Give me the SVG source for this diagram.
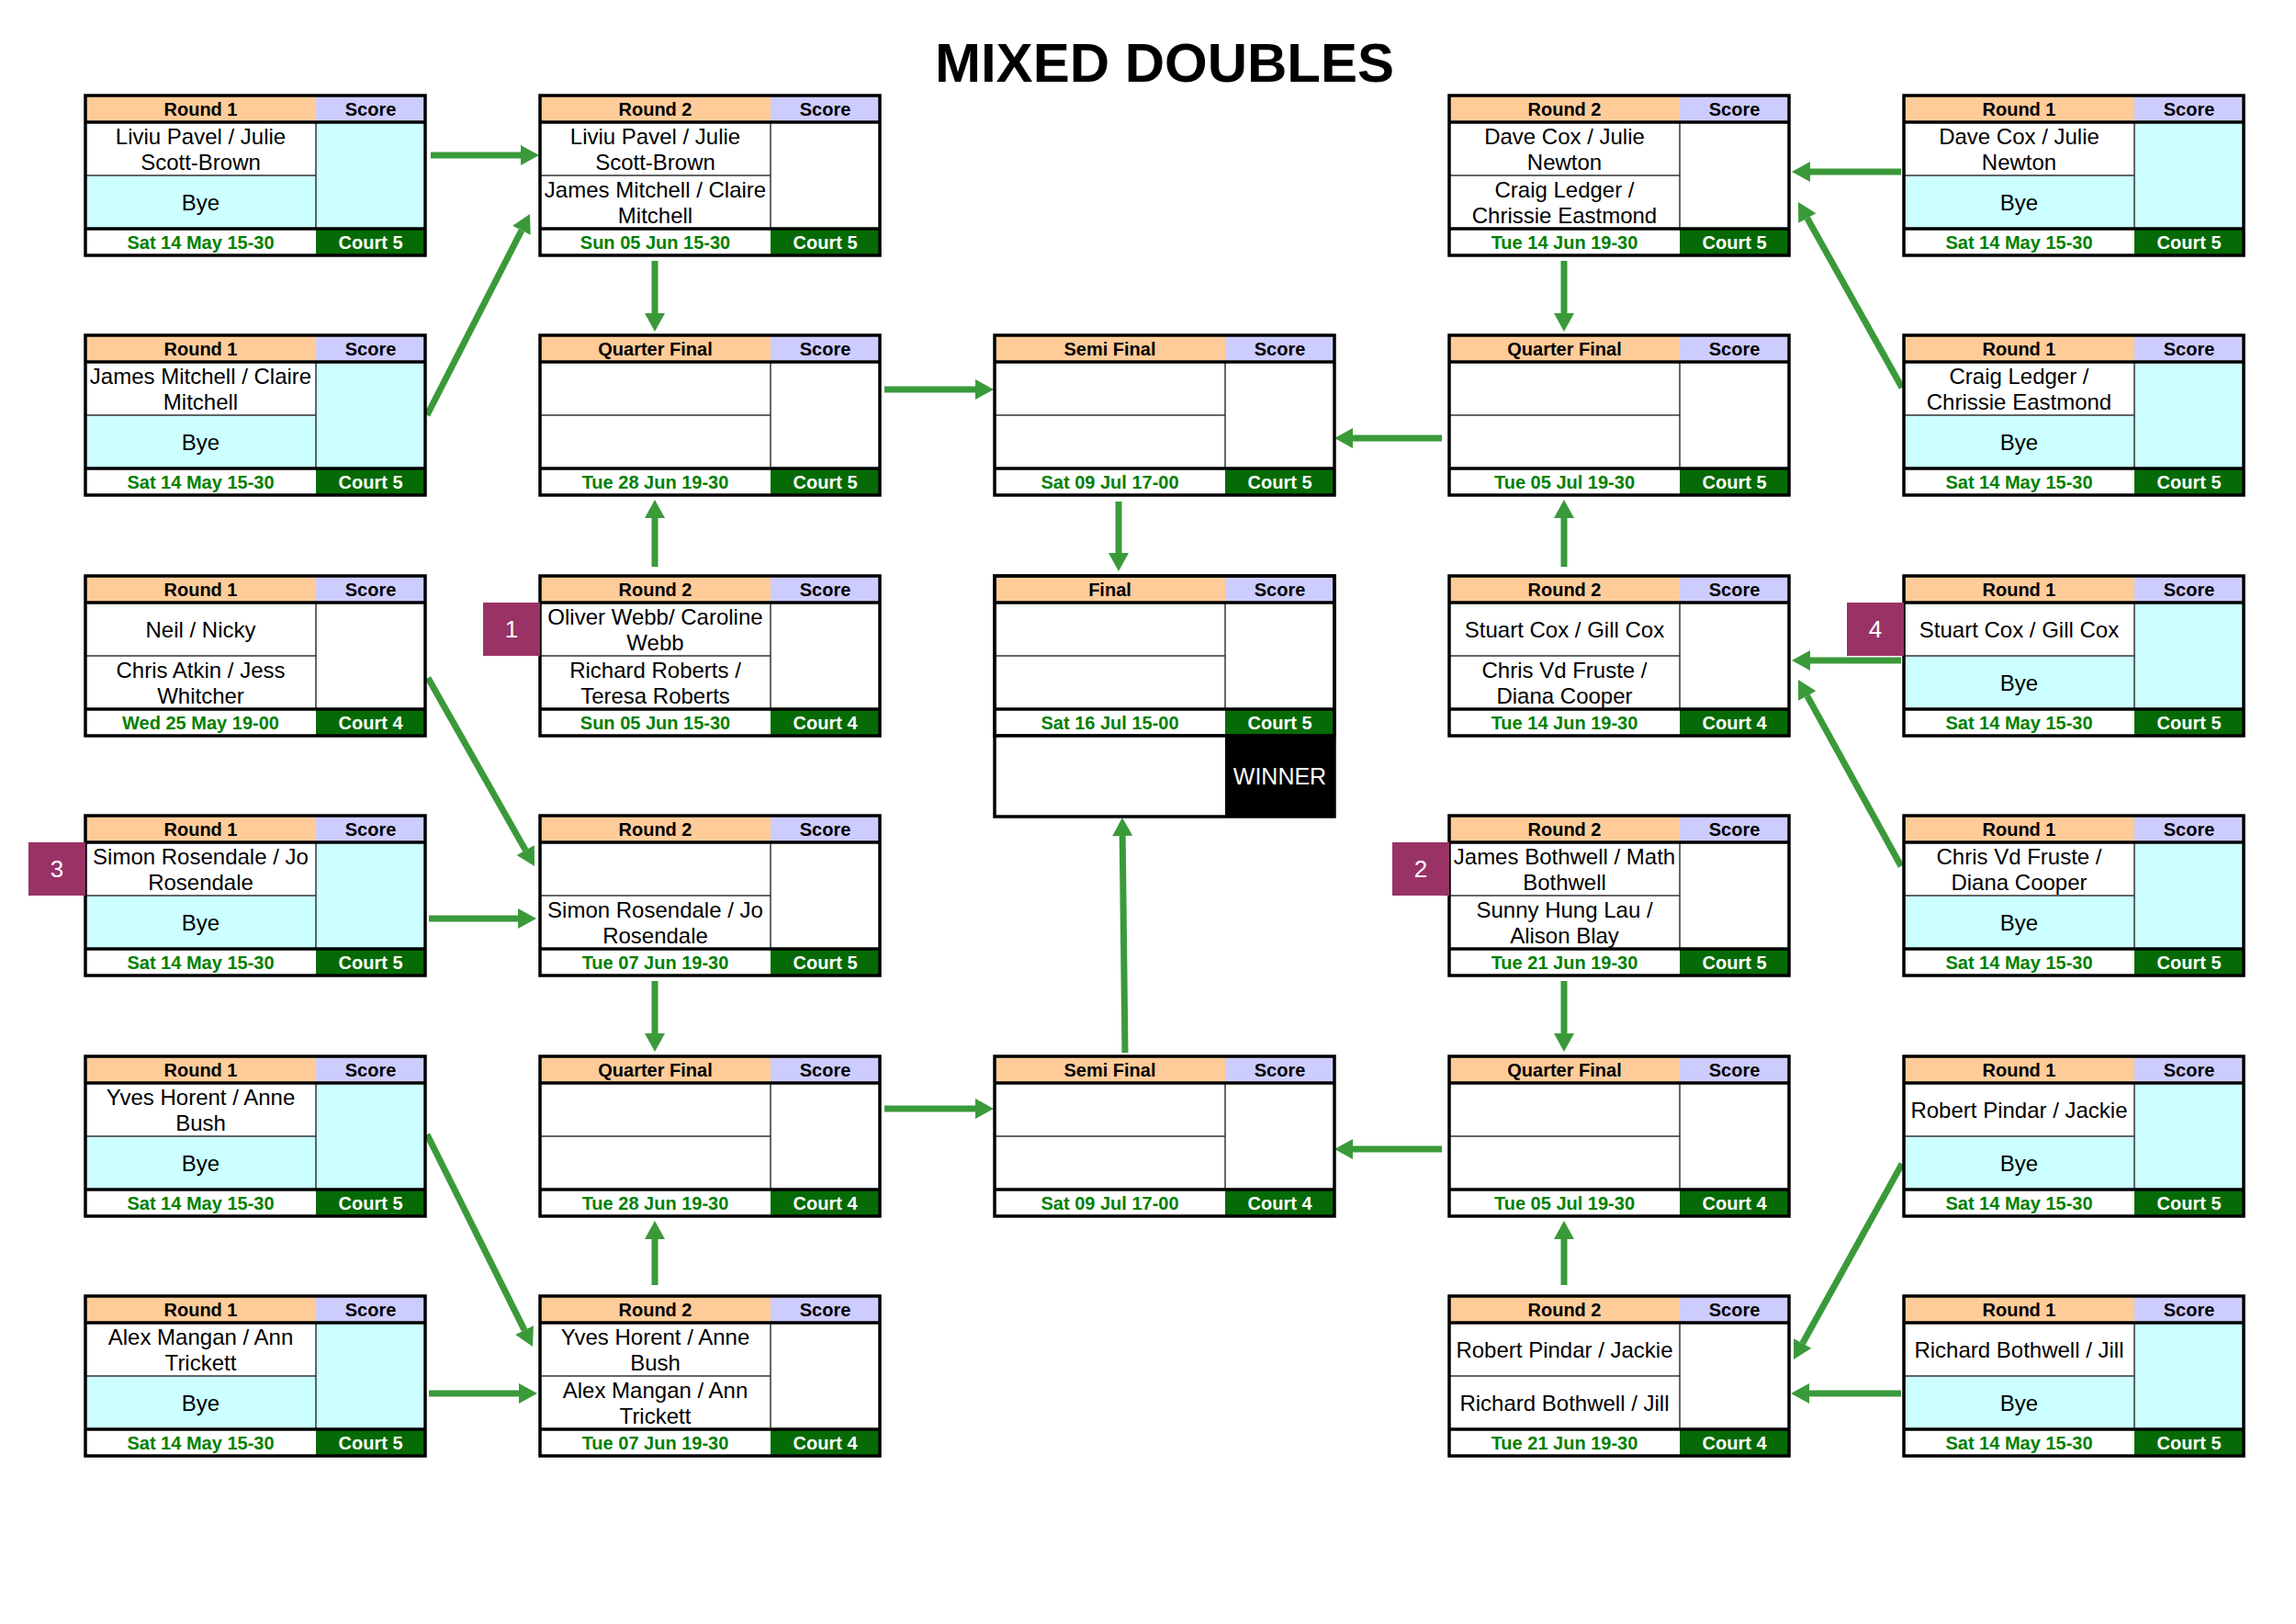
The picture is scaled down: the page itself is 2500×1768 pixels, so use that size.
<svg xmlns="http://www.w3.org/2000/svg" xmlns:xlink="http://www.w3.org/1999/xlink" width="2500" height="1768" viewBox="0 0 2500 1768">
<style>
.hd{fill:#FFCC99}.sh{fill:#CCCCFF}.w{fill:#FFFFFF}.cy{fill:#CCFFFF}.ct{fill:#066B06}
.thin{stroke:#333;stroke-width:1.5}.thick{stroke:#000;stroke-width:3.5}
.frame{fill:none;stroke:#000;stroke-width:3.5}
text{font-family:"Liberation Sans",Arial,sans-serif;text-anchor:middle}
.h{font-size:20px;font-weight:bold;fill:#000}
.n{font-size:24px;fill:#000}
.d{font-size:20px;font-weight:bold;fill:#008000}
.c{font-size:20px;font-weight:bold;fill:#FFFFFF}
.sd{font-size:26px;fill:#FFFFFF}
.seed{fill:#993366}
.title{font-size:60px;font-weight:bold;fill:#000}
.arr{stroke:#3A9A3A;stroke-width:7;fill:none;marker-end:url(#ah)}
</style>
<defs>
<marker id="ah" markerUnits="userSpaceOnUse" markerWidth="20" markerHeight="22" refX="0" refY="11" orient="auto" overflow="visible">
<path d="M0,0 L20,11 L0,22 z" fill="#3A9A3A"/>
</marker>
<g id="boxW">
<rect class="hd" x="0" y="0" width="251" height="29"/>
<rect class="sh" x="251" y="0" width="119" height="29"/>
<rect class="w" x="0" y="29" width="370" height="116"/>
<rect class="w" x="0" y="145" width="251" height="29"/>
<rect class="ct" x="251" y="145" width="119" height="29"/>
<line class="thin" x1="0" y1="87" x2="251" y2="87"/>
<line class="thin" x1="251" y1="29" x2="251" y2="145"/>
<line class="thick" x1="0" y1="29" x2="370" y2="29"/>
<line class="thick" x1="0" y1="145" x2="370" y2="145"/>
<rect class="frame" x="0" y="0" width="370" height="174"/>
</g>
<g id="boxC">
<rect class="hd" x="0" y="0" width="251" height="29"/>
<rect class="sh" x="251" y="0" width="119" height="29"/>
<rect class="w" x="0" y="29" width="251" height="58"/>
<rect class="cy" x="0" y="87" width="251" height="58"/>
<rect class="cy" x="251" y="29" width="119" height="116"/>
<rect class="w" x="0" y="145" width="251" height="29"/>
<rect class="ct" x="251" y="145" width="119" height="29"/>
<line class="thin" x1="0" y1="87" x2="251" y2="87"/>
<line class="thin" x1="251" y1="29" x2="251" y2="145"/>
<line class="thick" x1="0" y1="29" x2="370" y2="29"/>
<line class="thick" x1="0" y1="145" x2="370" y2="145"/>
<rect class="frame" x="0" y="0" width="370" height="174"/>
</g>
</defs>
<rect x="0" y="0" width="2500" height="1768" fill="#FFFFFF"/>
<text class="title" x="1268" y="89">MIXED DOUBLES</text>

<g id="connectors">
<line class="arr" x1="469" y1="169" x2="567" y2="169"/>
<line class="arr" x1="465" y1="452" x2="567.9" y2="250.8"/>
<line class="arr" x1="713" y1="284" x2="713" y2="341"/>
<line class="arr" x1="963" y1="424" x2="1062" y2="424"/>
<line class="arr" x1="713" y1="617" x2="713" y2="564"/>
<line class="arr" x1="1218" y1="546" x2="1218" y2="602"/>
<line class="arr" x1="1570" y1="477" x2="1473" y2="477"/>
<line class="arr" x1="466" y1="738" x2="572.2" y2="925.6"/>
<line class="arr" x1="467" y1="1000" x2="564" y2="1000"/>
<line class="arr" x1="713" y1="1068" x2="713" y2="1125"/>
<line class="arr" x1="963" y1="1207" x2="1062" y2="1207"/>
<line class="arr" x1="713" y1="1399" x2="713" y2="1349"/>
<line class="arr" x1="1225" y1="1146" x2="1222.2" y2="910"/>
<line class="arr" x1="1570" y1="1251" x2="1473" y2="1251"/>
<line class="arr" x1="465" y1="1235" x2="571.1" y2="1448.1"/>
<line class="arr" x1="467" y1="1517" x2="565" y2="1517"/>
<line class="arr" x1="2070" y1="187" x2="1971" y2="187"/>
<line class="arr" x1="2071" y1="422" x2="1967.8" y2="237.5"/>
<line class="arr" x1="1703" y1="284" x2="1703" y2="341"/>
<line class="arr" x1="1703" y1="617" x2="1703" y2="564"/>
<line class="arr" x1="2070" y1="719" x2="1971" y2="719"/>
<line class="arr" x1="2070" y1="943" x2="1967.7" y2="757.5"/>
<line class="arr" x1="1703" y1="1068" x2="1703" y2="1125"/>
<line class="arr" x1="1703" y1="1399" x2="1703" y2="1349"/>
<line class="arr" x1="2071" y1="1267" x2="1962.7" y2="1462.5"/>
<line class="arr" x1="2070" y1="1517" x2="1970" y2="1517"/>
</g>

<!-- Left Round 1 -->
<g id="A1" transform="translate(93,104)">
<use xlink:href="#boxC" href="#boxC"/>
<text class="h" x="125.5" y="22">Round 1</text><text class="h" x="310.5" y="22">Score</text>
<text class="n" x="125.5" y="52.5">Liviu Pavel / Julie</text><text class="n" x="125.5" y="80.5">Scott-Brown</text>
<text class="n" x="125.5" y="124.5">Bye</text>
<text class="d" x="125.5" y="166.5">Sat 14 May 15-30</text><text class="c" x="310.5" y="166.5">Court 5</text>
</g>
<g id="A2" transform="translate(93,365)">
<use xlink:href="#boxC" href="#boxC"/>
<text class="h" x="125.5" y="22">Round 1</text><text class="h" x="310.5" y="22">Score</text>
<text class="n" x="125.5" y="52.5">James Mitchell / Claire</text><text class="n" x="125.5" y="80.5">Mitchell</text>
<text class="n" x="125.5" y="124.5">Bye</text>
<text class="d" x="125.5" y="166.5">Sat 14 May 15-30</text><text class="c" x="310.5" y="166.5">Court 5</text>
</g>
<g id="A3" transform="translate(93,627)">
<use xlink:href="#boxW" href="#boxW"/>
<text class="h" x="125.5" y="22">Round 1</text><text class="h" x="310.5" y="22">Score</text>
<text class="n" x="125.5" y="66.5">Neil / Nicky</text>
<text class="n" x="125.5" y="110.5">Chris Atkin / Jess</text><text class="n" x="125.5" y="138.5">Whitcher</text>
<text class="d" x="125.5" y="166.5">Wed 25 May 19-00</text><text class="c" x="310.5" y="166.5">Court 4</text>
</g>
<g id="A4" transform="translate(93,888)">
<use xlink:href="#boxC" href="#boxC"/>
<rect class="seed" x="-62" y="29" width="62" height="58"/><text class="sd" x="-31" y="67">3</text>
<text class="h" x="125.5" y="22">Round 1</text><text class="h" x="310.5" y="22">Score</text>
<text class="n" x="125.5" y="52.5">Simon Rosendale / Jo</text><text class="n" x="125.5" y="80.5">Rosendale</text>
<text class="n" x="125.5" y="124.5">Bye</text>
<text class="d" x="125.5" y="166.5">Sat 14 May 15-30</text><text class="c" x="310.5" y="166.5">Court 5</text>
</g>
<g id="A5" transform="translate(93,1150)">
<use xlink:href="#boxC" href="#boxC"/>
<text class="h" x="125.5" y="22">Round 1</text><text class="h" x="310.5" y="22">Score</text>
<text class="n" x="125.5" y="52.5">Yves Horent / Anne</text><text class="n" x="125.5" y="80.5">Bush</text>
<text class="n" x="125.5" y="124.5">Bye</text>
<text class="d" x="125.5" y="166.5">Sat 14 May 15-30</text><text class="c" x="310.5" y="166.5">Court 5</text>
</g>
<g id="A6" transform="translate(93,1411)">
<use xlink:href="#boxC" href="#boxC"/>
<text class="h" x="125.5" y="22">Round 1</text><text class="h" x="310.5" y="22">Score</text>
<text class="n" x="125.5" y="52.5">Alex Mangan / Ann</text><text class="n" x="125.5" y="80.5">Trickett</text>
<text class="n" x="125.5" y="124.5">Bye</text>
<text class="d" x="125.5" y="166.5">Sat 14 May 15-30</text><text class="c" x="310.5" y="166.5">Court 5</text>
</g>

<!-- Left Round 2 / QF -->
<g id="B1" transform="translate(588,104)">
<use xlink:href="#boxW" href="#boxW"/>
<text class="h" x="125.5" y="22">Round 2</text><text class="h" x="310.5" y="22">Score</text>
<text class="n" x="125.5" y="52.5">Liviu Pavel / Julie</text><text class="n" x="125.5" y="80.5">Scott-Brown</text>
<text class="n" x="125.5" y="110.5">James Mitchell / Claire</text><text class="n" x="125.5" y="138.5">Mitchell</text>
<text class="d" x="125.5" y="166.5">Sun 05 Jun 15-30</text><text class="c" x="310.5" y="166.5">Court 5</text>
</g>
<g id="B2" transform="translate(588,365)">
<use xlink:href="#boxW" href="#boxW"/>
<text class="h" x="125.5" y="22">Quarter Final</text><text class="h" x="310.5" y="22">Score</text>
<text class="d" x="125.5" y="166.5">Tue 28 Jun 19-30</text><text class="c" x="310.5" y="166.5">Court 5</text>
</g>
<g id="B3" transform="translate(588,627)">
<use xlink:href="#boxW" href="#boxW"/>
<rect class="seed" x="-62" y="29" width="62" height="58"/><text class="sd" x="-31" y="67">1</text>
<text class="h" x="125.5" y="22">Round 2</text><text class="h" x="310.5" y="22">Score</text>
<text class="n" x="125.5" y="52.5">Oliver Webb/ Caroline</text><text class="n" x="125.5" y="80.5">Webb</text>
<text class="n" x="125.5" y="110.5">Richard Roberts /</text><text class="n" x="125.5" y="138.5">Teresa Roberts</text>
<text class="d" x="125.5" y="166.5">Sun 05 Jun 15-30</text><text class="c" x="310.5" y="166.5">Court 4</text>
</g>
<g id="B4" transform="translate(588,888)">
<use xlink:href="#boxW" href="#boxW"/>
<text class="h" x="125.5" y="22">Round 2</text><text class="h" x="310.5" y="22">Score</text>
<text class="n" x="125.5" y="110.5">Simon Rosendale / Jo</text><text class="n" x="125.5" y="138.5">Rosendale</text>
<text class="d" x="125.5" y="166.5">Tue 07 Jun 19-30</text><text class="c" x="310.5" y="166.5">Court 5</text>
</g>
<g id="B5" transform="translate(588,1150)">
<use xlink:href="#boxW" href="#boxW"/>
<text class="h" x="125.5" y="22">Quarter Final</text><text class="h" x="310.5" y="22">Score</text>
<text class="d" x="125.5" y="166.5">Tue 28 Jun 19-30</text><text class="c" x="310.5" y="166.5">Court 4</text>
</g>
<g id="B6" transform="translate(588,1411)">
<use xlink:href="#boxW" href="#boxW"/>
<text class="h" x="125.5" y="22">Round 2</text><text class="h" x="310.5" y="22">Score</text>
<text class="n" x="125.5" y="52.5">Yves Horent / Anne</text><text class="n" x="125.5" y="80.5">Bush</text>
<text class="n" x="125.5" y="110.5">Alex Mangan / Ann</text><text class="n" x="125.5" y="138.5">Trickett</text>
<text class="d" x="125.5" y="166.5">Tue 07 Jun 19-30</text><text class="c" x="310.5" y="166.5">Court 4</text>
</g>

<!-- Centre -->
<g id="C1" transform="translate(1083,365)">
<use xlink:href="#boxW" href="#boxW"/>
<text class="h" x="125.5" y="22">Semi Final</text><text class="h" x="310.5" y="22">Score</text>
<text class="d" x="125.5" y="166.5">Sat 09 Jul 17-00</text><text class="c" x="310.5" y="166.5">Court 5</text>
</g>
<g id="C2" transform="translate(1083,627)">
<use xlink:href="#boxW" href="#boxW"/>
<rect class="w" x="0" y="174" width="251" height="88"/>
<rect x="251" y="174" width="119" height="88" fill="#000"/>
<line class="thick" x1="0" y1="174" x2="370" y2="174"/>
<rect class="frame" x="0" y="0" width="370" height="262"/>
<text class="h" x="125.5" y="22">Final</text><text class="h" x="310.5" y="22">Score</text>
<text class="d" x="125.5" y="166.5">Sat 16 Jul 15-00</text><text class="c" x="310.5" y="166.5">Court 5</text>
<text x="310.5" y="227" style="font-size:25px;fill:#FFFFFF">WINNER</text>
</g>
<g id="C3" transform="translate(1083,1150)">
<use xlink:href="#boxW" href="#boxW"/>
<text class="h" x="125.5" y="22">Semi Final</text><text class="h" x="310.5" y="22">Score</text>
<text class="d" x="125.5" y="166.5">Sat 09 Jul 17-00</text><text class="c" x="310.5" y="166.5">Court 4</text>
</g>

<!-- Right Round 2 / QF -->
<g id="D1" transform="translate(1578,104)">
<use xlink:href="#boxW" href="#boxW"/>
<text class="h" x="125.5" y="22">Round 2</text><text class="h" x="310.5" y="22">Score</text>
<text class="n" x="125.5" y="52.5">Dave Cox / Julie</text><text class="n" x="125.5" y="80.5">Newton</text>
<text class="n" x="125.5" y="110.5">Craig Ledger /</text><text class="n" x="125.5" y="138.5">Chrissie Eastmond</text>
<text class="d" x="125.5" y="166.5">Tue 14 Jun 19-30</text><text class="c" x="310.5" y="166.5">Court 5</text>
</g>
<g id="D2" transform="translate(1578,365)">
<use xlink:href="#boxW" href="#boxW"/>
<text class="h" x="125.5" y="22">Quarter Final</text><text class="h" x="310.5" y="22">Score</text>
<text class="d" x="125.5" y="166.5">Tue 05 Jul 19-30</text><text class="c" x="310.5" y="166.5">Court 5</text>
</g>
<g id="D3" transform="translate(1578,627)">
<use xlink:href="#boxW" href="#boxW"/>
<text class="h" x="125.5" y="22">Round 2</text><text class="h" x="310.5" y="22">Score</text>
<text class="n" x="125.5" y="66.5">Stuart Cox / Gill Cox</text>
<text class="n" x="125.5" y="110.5">Chris Vd Fruste /</text><text class="n" x="125.5" y="138.5">Diana Cooper</text>
<text class="d" x="125.5" y="166.5">Tue 14 Jun 19-30</text><text class="c" x="310.5" y="166.5">Court 4</text>
</g>
<g id="D4" transform="translate(1578,888)">
<use xlink:href="#boxW" href="#boxW"/>
<rect class="seed" x="-62" y="29" width="62" height="58"/><text class="sd" x="-31" y="67">2</text>
<text class="h" x="125.5" y="22">Round 2</text><text class="h" x="310.5" y="22">Score</text>
<text class="n" x="125.5" y="52.5">James Bothwell / Math</text><text class="n" x="125.5" y="80.5">Bothwell</text>
<text class="n" x="125.5" y="110.5">Sunny Hung Lau /</text><text class="n" x="125.5" y="138.5">Alison Blay</text>
<text class="d" x="125.5" y="166.5">Tue 21 Jun 19-30</text><text class="c" x="310.5" y="166.5">Court 5</text>
</g>
<g id="D5" transform="translate(1578,1150)">
<use xlink:href="#boxW" href="#boxW"/>
<text class="h" x="125.5" y="22">Quarter Final</text><text class="h" x="310.5" y="22">Score</text>
<text class="d" x="125.5" y="166.5">Tue 05 Jul 19-30</text><text class="c" x="310.5" y="166.5">Court 4</text>
</g>
<g id="D6" transform="translate(1578,1411)">
<use xlink:href="#boxW" href="#boxW"/>
<text class="h" x="125.5" y="22">Round 2</text><text class="h" x="310.5" y="22">Score</text>
<text class="n" x="125.5" y="66.5">Robert Pindar / Jackie</text>
<text class="n" x="125.5" y="124.5">Richard Bothwell / Jill</text>
<text class="d" x="125.5" y="166.5">Tue 21 Jun 19-30</text><text class="c" x="310.5" y="166.5">Court 4</text>
</g>

<!-- Right Round 1 -->
<g id="E1" transform="translate(2073,104)">
<use xlink:href="#boxC" href="#boxC"/>
<text class="h" x="125.5" y="22">Round 1</text><text class="h" x="310.5" y="22">Score</text>
<text class="n" x="125.5" y="52.5">Dave Cox / Julie</text><text class="n" x="125.5" y="80.5">Newton</text>
<text class="n" x="125.5" y="124.5">Bye</text>
<text class="d" x="125.5" y="166.5">Sat 14 May 15-30</text><text class="c" x="310.5" y="166.5">Court 5</text>
</g>
<g id="E2" transform="translate(2073,365)">
<use xlink:href="#boxC" href="#boxC"/>
<text class="h" x="125.5" y="22">Round 1</text><text class="h" x="310.5" y="22">Score</text>
<text class="n" x="125.5" y="52.5">Craig Ledger /</text><text class="n" x="125.5" y="80.5">Chrissie Eastmond</text>
<text class="n" x="125.5" y="124.5">Bye</text>
<text class="d" x="125.5" y="166.5">Sat 14 May 15-30</text><text class="c" x="310.5" y="166.5">Court 5</text>
</g>
<g id="E3" transform="translate(2073,627)">
<use xlink:href="#boxC" href="#boxC"/>
<rect class="seed" x="-62" y="29" width="62" height="58"/><text class="sd" x="-31" y="67">4</text>
<text class="h" x="125.5" y="22">Round 1</text><text class="h" x="310.5" y="22">Score</text>
<text class="n" x="125.5" y="66.5">Stuart Cox / Gill Cox</text>
<text class="n" x="125.5" y="124.5">Bye</text>
<text class="d" x="125.5" y="166.5">Sat 14 May 15-30</text><text class="c" x="310.5" y="166.5">Court 5</text>
</g>
<g id="E4" transform="translate(2073,888)">
<use xlink:href="#boxC" href="#boxC"/>
<text class="h" x="125.5" y="22">Round 1</text><text class="h" x="310.5" y="22">Score</text>
<text class="n" x="125.5" y="52.5">Chris Vd Fruste /</text><text class="n" x="125.5" y="80.5">Diana Cooper</text>
<text class="n" x="125.5" y="124.5">Bye</text>
<text class="d" x="125.5" y="166.5">Sat 14 May 15-30</text><text class="c" x="310.5" y="166.5">Court 5</text>
</g>
<g id="E5" transform="translate(2073,1150)">
<use xlink:href="#boxC" href="#boxC"/>
<text class="h" x="125.5" y="22">Round 1</text><text class="h" x="310.5" y="22">Score</text>
<text class="n" x="125.5" y="66.5">Robert Pindar / Jackie</text>
<text class="n" x="125.5" y="124.5">Bye</text>
<text class="d" x="125.5" y="166.5">Sat 14 May 15-30</text><text class="c" x="310.5" y="166.5">Court 5</text>
</g>
<g id="E6" transform="translate(2073,1411)">
<use xlink:href="#boxC" href="#boxC"/>
<text class="h" x="125.5" y="22">Round 1</text><text class="h" x="310.5" y="22">Score</text>
<text class="n" x="125.5" y="66.5">Richard Bothwell / Jill</text>
<text class="n" x="125.5" y="124.5">Bye</text>
<text class="d" x="125.5" y="166.5">Sat 14 May 15-30</text><text class="c" x="310.5" y="166.5">Court 5</text>
</g>
</svg>
